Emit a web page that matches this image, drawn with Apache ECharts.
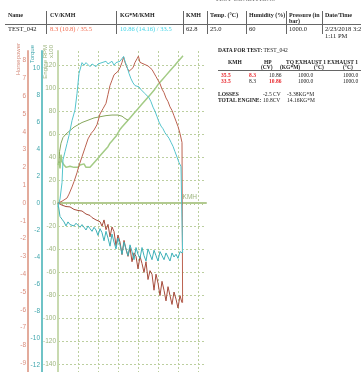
<!DOCTYPE html>
<html>
<head>
<meta charset="utf-8">
<script src="https://cdn.jsdelivr.net/npm/echarts@6.0.0/dist/echarts.min.js"></script>
<style>
  html, body { margin: 0; padding: 0; background: #fff; }
  #wrap { position: relative; width: 361px; height: 372px; overflow: hidden; font-family: 'Liberation Serif', serif; color: #222; }
  #chart { position: absolute; left: 0; top: 0; width: 361px; height: 372px; }
  .t { position: absolute; font-size: 6.5px; line-height: 7px; white-space: nowrap; z-index: 2; }
  .h { font-size: 6px; }
  .s { font-size: 5.5px; line-height: 6px; }
  .b { font-weight: bold; }
  .red { color: #e8262c; }
  .hl { position: absolute; height: 0; border-top: 1px solid #666; z-index: 2; }
  .vl { position: absolute; width: 0; border-left: 1px solid #666; z-index: 2; }
</style>
</head>
<body>
<div id="wrap">
  <div id="chart"></div>

  <!-- top summary table -->
  <div class="t b" style="left:215px;top:-5px;color:#888">TEST CONDITIONS</div>
  <div class="t b h" style="left:8px;top:12px">Name</div>
  <div class="t b h" style="left:50px;top:12px">CV/KMH</div>
  <div class="t b h" style="left:120px;top:12px">KG*M/KMH</div>
  <div class="t b h" style="left:186px;top:12px">KMH</div>
  <div class="t b h" style="left:210px;top:12px">Temp. (°C)</div>
  <div class="t b h" style="left:249px;top:12px">Humidity (%)</div>
  <div class="t b h" style="left:289px;top:12px">Pressure (in</div>
  <div class="t b h" style="left:289px;top:18px">bar)</div>
  <div class="t b h" style="left:325px;top:12px">Date/Time</div>
  <div class="hl" style="left:5px;top:24px;width:356px"></div>
  <div class="vl" style="left:46px;top:11px;height:23px"></div>
  <div class="vl" style="left:116px;top:11px;height:23px"></div>
  <div class="vl" style="left:183px;top:11px;height:23px"></div>
  <div class="vl" style="left:207px;top:11px;height:23px"></div>
  <div class="vl" style="left:246px;top:11px;height:23px"></div>
  <div class="vl" style="left:286px;top:11px;height:23px"></div>
  <div class="vl" style="left:322px;top:11px;height:23px"></div>
  <div class="t" style="left:8px;top:25px">TEST_042</div>
  <div class="t" style="left:50px;top:25px;color:#f26b4f">8.3 (10.8) / 35.5</div>
  <div class="t" style="left:120px;top:25px;color:#3fd3e6">10.86 (14.16) / 33.5</div>
  <div class="t" style="left:186px;top:25px">62.8</div>
  <div class="t" style="left:210px;top:25px">25.0</div>
  <div class="t" style="left:249px;top:25px">60</div>
  <div class="t" style="left:289px;top:25px">1000.0</div>
  <div class="t" style="left:325px;top:25px">2/23/2018 3:2</div>
  <div class="t" style="left:325px;top:32px">1:11 PM</div>

  <!-- right data block -->
  <div class="t s" style="left:218px;top:47px"><span class="b">DATA FOR TEST:</span> TEST_042</div>
  <div class="t s b" style="left:228px;top:59px">KMH</div>
  <div class="t s b" style="left:264px;top:59px">HP</div>
  <div class="t s b" style="left:286px;top:59px">TQ EXHAUST 1 EXHAUST 1</div>
  <div class="t s b" style="left:261px;top:64px">(CV)</div>
  <div class="t s b" style="left:280px;top:64px">(KG*M)</div>
  <div class="t s b" style="left:314px;top:64px">(°C)</div>
  <div class="t s b" style="left:343px;top:64px">(°C)</div>
  <div class="hl" style="left:218px;top:70px;width:143px"></div>
  <div class="t s b red" style="left:221px;top:72px">35.5</div>
  <div class="t s b red" style="left:249px;top:72px">8.3</div>
  <div class="t s" style="left:269px;top:72px">10.86</div>
  <div class="t s" style="left:298px;top:72px">1000.0</div>
  <div class="t s" style="left:343px;top:72px">1000.0</div>
  <div class="t s b red" style="left:221px;top:78px">33.5</div>
  <div class="t s" style="left:249px;top:78px">8.3</div>
  <div class="t s b red" style="left:269px;top:78px">10.86</div>
  <div class="t s" style="left:298px;top:78px">1000.0</div>
  <div class="t s" style="left:343px;top:78px">1000.0</div>
  <div class="t s b" style="left:218px;top:91px">LOSSES</div>
  <div class="t s" style="left:263px;top:91px">-2.5 CV</div>
  <div class="t s" style="left:287px;top:91px">-3.38KG*M</div>
  <div class="t s b" style="left:218px;top:97px">TOTAL ENGINE:</div>
  <div class="t s" style="left:263px;top:97px">10.8CV</div>
  <div class="t s" style="left:287px;top:97px">14.16KG*M</div>
</div>

<script>
// tick labels
const kmhTicks = [10, 20, 30, 40, 50, 60, 70]
const hpTicks = [-9, -8, -7, -6, -5, -4, -3, -2, -1, 0, 1, 2, 3, 4, 5, 6, 7, 8]
const tqTicks = [-12, -10, -8, -6, -4, -2, 0, 2, 4, 6, 8, 10]
const rpmTicks = [-140, -120, -100, -80, -60, -40, -20, 0, 20, 40, 60, 80, 100, 120]

// power run (CV), ends with the drop at top speed
const powerKmh = [0, 1, 2, 3, 4.5, 5.5, 7, 8, 9.5, 10.5, 12, 13.5, 15, 16.5, 18, 19.5, 21, 22.5, 24, 25,
  26, 27, 28, 29, 30, 31, 32, 32.8, 33.5, 34.5, 35.5, 36.5, 37.5, 38.5, 39.5, 40.2, 41, 42, 43, 44,
  45, 46, 47, 48, 49, 50, 51, 52, 53, 54, 55, 56, 57, 58, 59, 60, 61, 62, 62.3]
const powerHp = [0, 0.05, 0.1, 0.2, 0.28, 0.5, 0.9, 1.2, 1.7, 2.1, 2.6, 3.1, 3.6, 3.9, 4.1, 4.4, 5.0, 5.3, 5.6, 6.1,
  6.6, 6.9, 7.2, 7.3, 7.4, 7.6, 7.9, 8.2, 7.9, 7.6, 7.4, 7.3, 7.6, 7.9, 8.1, 8.25, 7.9, 8.0, 7.8, 7.9,
  7.7, 7.6, 7.5, 7.3, 7.1, 6.9, 6.7, 6.4, 6.2, 5.9, 5.7, 5.4, 5.2, 4.9, 4.6, 4.3, 3.9, 3.4, -5.6]

// torque run (KG*M)
const torqueKmh = [0, 1, 2, 2.5, 3.5, 4.5, 5.5, 7, 8.5, 9.5, 10.5, 12, 13, 14, 15, 16, 17, 18, 19, 20,
  21, 22, 23, 24, 25, 26, 27, 28, 29, 30, 31, 32, 32.8, 33.5, 34.5, 35.5, 36.5, 37.5, 38.5, 39.5,
  40.5, 41.5, 42.5, 43.5, 44.5, 45.5, 46.5, 47.5, 48.5, 49.5, 50.5, 51.5, 52.5, 53.5, 54.5, 55.5,
  56.5, 57.5, 58.5, 59.5, 60.5, 61.5, 62.2, 62.3]
const torqueKgm = [-0.3, 0.3, 1.5, 3.2, 3.8, 4.4, 5.0, 6.1, 6.9, 8.1, 9.6, 10.4, 10.2, 10.4, 10.3, 10.1, 10.3, 10.2, 10.1, 10.3,
  10.2, 10.4, 10.3, 10.5, 10.3, 10.4, 10.5, 10.2, 10.4, 10.3, 10.5, 10.7, 10.86, 10.5, 10.1, 9.6, 9.2, 8.9, 8.7, 8.8,
  8.6, 8.4, 8.3, 8.1, 8.0, 7.8, 7.5, 7.1, 6.8, 6.4, 6.0, 5.7, 5.5, 5.2, 5.0, 4.8,
  4.5, 4.2, 3.8, 3.4, 3.0, 2.7, 2.6, -3.7]

// coast-down losses
const lossKmh = [0, 1, 2, 3, 4, 5, 6, 7, 8, 9, 10, 11, 12, 13, 14, 15, 16, 17, 18, 19, 20,
  21, 22, 23, 24, 25, 26, 27, 28, 29, 30, 31, 32, 33, 34, 35, 36, 37, 38, 39, 40,
  41, 42, 43, 44, 45, 46, 47, 48, 49, 50, 51, 52, 53, 54, 55, 56, 57, 58, 59, 60, 61, 62]
const lossHp = [0, -0.05, -0.12, -0.1, -0.2, -0.25, -0.22, -0.3, -0.36, -0.33, -0.42, -0.48, -0.45, -0.55, -0.62, -0.58, -0.7, -0.82, -0.72, -0.95, -0.88,
  -1.05, -1.3, -0.95, -1.5, -1.2, -1.9, -1.35, -1.6, -2.4, -1.8, -2.2, -2.9, -2.1, -2.6, -3.0, -2.5, -3.3, -2.8, -3.0, -3.7,
  -3.0, -3.4, -3.9, -3.3, -4.3, -3.8, -4.0, -4.9, -4.0, -4.5, -5.2, -4.4, -4.9, -5.5, -4.7, -5.2, -5.7, -5.0, -5.4, -5.9, -5.2, -5.6]
const lossKgm = [0, -1.0, -1.2, -1.4, -1.7, -1.4, -1.6, -1.5, -1.7, -1.5, -1.6, -1.8, -1.6, -1.7, -2.0, -1.7, -1.9, -2.1, -1.8, -2.0, -2.4,
  -1.9, -2.2, -2.8, -2.1, -2.6, -3.2, -2.3, -2.9, -3.4, -2.6, -3.1, -3.8, -2.9, -3.4, -3.9, -3.1, -3.6, -4.2, -3.3, -3.8,
  -4.1, -3.3, -3.9, -4.3, -3.4, -3.8, -4.2, -3.5, -3.9, -4.3, -3.6, -3.9, -4.2, -3.7, -4.0, -4.3, -3.7, -4.0, -3.8, -4.1, -3.6, -3.7]

// engine rpm x100
const rpmKmh = [0, 0.5, 1, 1.5, 2, 3, 4, 5, 6, 7, 8, 9, 10, 11, 12, 13, 14, 15, 16, 17, 18, 19, 20,
  21, 22, 23, 24, 25, 26, 27, 28, 29, 30, 31, 32, 33, 34, 35, 36, 38, 40, 42, 44, 46, 48, 50, 52,
  54, 56, 58, 60, 62, 62.5]
const rpmVal = [33, 36, 30, 42, 36, 33, 31, 30, 32, 31, 31, 32, 31, 33, 32, 34, 31, 30, 31, 33, 35, 37, 39,
  41, 42, 45, 47, 49, 52, 54, 56, 58, 61, 64, 66, 68, 70, 72, 74, 78, 82, 86, 90, 94, 98, 103, 107,
  111, 115, 119, 123, 127, 128]
const rpmSmoothKmh = [0.5, 0.8, 1.5, 2.5, 4, 6, 8, 10, 12, 15, 18, 21, 24, 27, 30, 32, 33.5, 35]
const rpmSmoothVal = [35, 45, 52, 57, 60, 63, 66, 68, 70, 72, 74, 75, 76, 76.5, 76.5, 75.5, 73.5, 72]

const pair = (xs, ys) => xs.map((x, i) => [x, ys[i]])

const gridGreen = '#bccf9f'
const green = '#9db57e'
const font = 'Liberation Sans'

const chart = echarts.init(document.getElementById('chart'))

const lineSeries = (name, data, yAxisIndex, color, width) => ({
  name,
  type: 'line',
  data,
  yAxisIndex,
  symbol: 'none',
  showSymbol: false,
  lineStyle: { color, width },
  emphasis: { disabled: true },
})

const nameText = (text, x, y, fill) => ({
  type: 'text',
  x,
  y,
  rotation: Math.PI / 2,
  style: {
    text,
    fill,
    font: '6px "Liberation Sans"',
    align: 'right',
    textAlign: 'right',
    verticalAlign: 'middle',
    textVerticalAlign: 'middle',
  },
})

const option = {
  animation: false,
  grid: { left: 58, right: 155, top: 51, bottom: 0, outerBoundsMode: 'none' },
  xAxis: {
    type: 'value',
    min: 0,
    max: 74,
    name: 'KMH',
    nameLocation: 'end',
    nameGap: -9,
    nameMoveOverlap: false,
    nameTextStyle: { color: green, fontSize: 6.5, fontFamily: font, align: 'right', verticalAlign: 'bottom', padding: [0, 0, 2, 0] },
    axisLine: { onZero: true, onZeroAxisIndex: 0, lineStyle: { color: '#b2ca90', width: 2 } },
    axisTick: { show: false, customValues: kmhTicks },
    minorTick: { show: true, splitNumber: 5, length: 2, lineStyle: { color: '#b2ca90' } },
    axisLabel: { customValues: kmhTicks, color: green, fontSize: 6.5, fontFamily: font, margin: 2 },
    splitLine: { show: true, lineStyle: { color: gridGreen, type: [2, 2], width: 1 } },
  },
  yAxis: [
    {
      type: 'value',
      position: 'left',
      offset: 0,
      min: -147,
      max: 132.2,
      axisLine: { show: true, onZero: false, lineStyle: { color: '#c8dab0', width: 2 } },
      axisTick: { show: false, customValues: rpmTicks },
      axisLabel: { customValues: rpmTicks, color: green, fontSize: 6.5, fontFamily: font, margin: 2 },
      splitLine: { show: true, lineStyle: { color: gridGreen, type: [2, 2], width: 1 } },
    },
    {
      type: 'value',
      position: 'left',
      offset: 30,
      min: -9.494,
      max: 8.539,
      axisLine: { show: true, onZero: false, lineStyle: { color: '#e3ab9c', width: 2 } },
      axisTick: { show: false, customValues: hpTicks },
      axisLabel: { customValues: hpTicks, color: '#d98c7c', fontSize: 6.5, fontFamily: font, margin: 2 },
      splitLine: { show: false },
    },
    {
      type: 'value',
      position: 'left',
      offset: 16,
      min: -12.52,
      max: 11.26,
      axisLine: { show: true, onZero: false, lineStyle: { color: '#6fc3c6', width: 2 } },
      axisTick: { show: false, customValues: tqTicks },
      axisLabel: { customValues: tqTicks, color: '#3fa6ad', fontSize: 6.5, fontFamily: font, margin: 2 },
      splitLine: { show: false },
    },
  ],
  graphic: [
    nameText('Horsepower', 18, 43, '#d48877'),
    nameText('Torque', 32, 45, '#3fa6ad'),
    nameText('Engine RPM', 45, 45, green),
    nameText('x100', 51, 45, green),
  ],
  series: [
    lineSeries('Engine RPM', pair(rpmKmh, rpmVal), 0, '#a3cb85', 1.5),
    lineSeries('Engine RPM smooth', pair(rpmSmoothKmh, rpmSmoothVal), 0, '#86a65c', 1),
    lineSeries('Losses CV', pair(lossKmh, lossHp), 1, '#a64c3c', 1),
    lineSeries('Losses KG*M', pair(lossKmh, lossKgm), 2, '#3cb0b8', 1),
    lineSeries('Power CV', pair(powerKmh, powerHp), 1, '#bb6250', 1),
    lineSeries('Torque KG*M', pair(torqueKmh, torqueKgm), 2, '#54c4cc', 1),
  ],
}

chart.setOption(option)
</script>
</body>
</html>
